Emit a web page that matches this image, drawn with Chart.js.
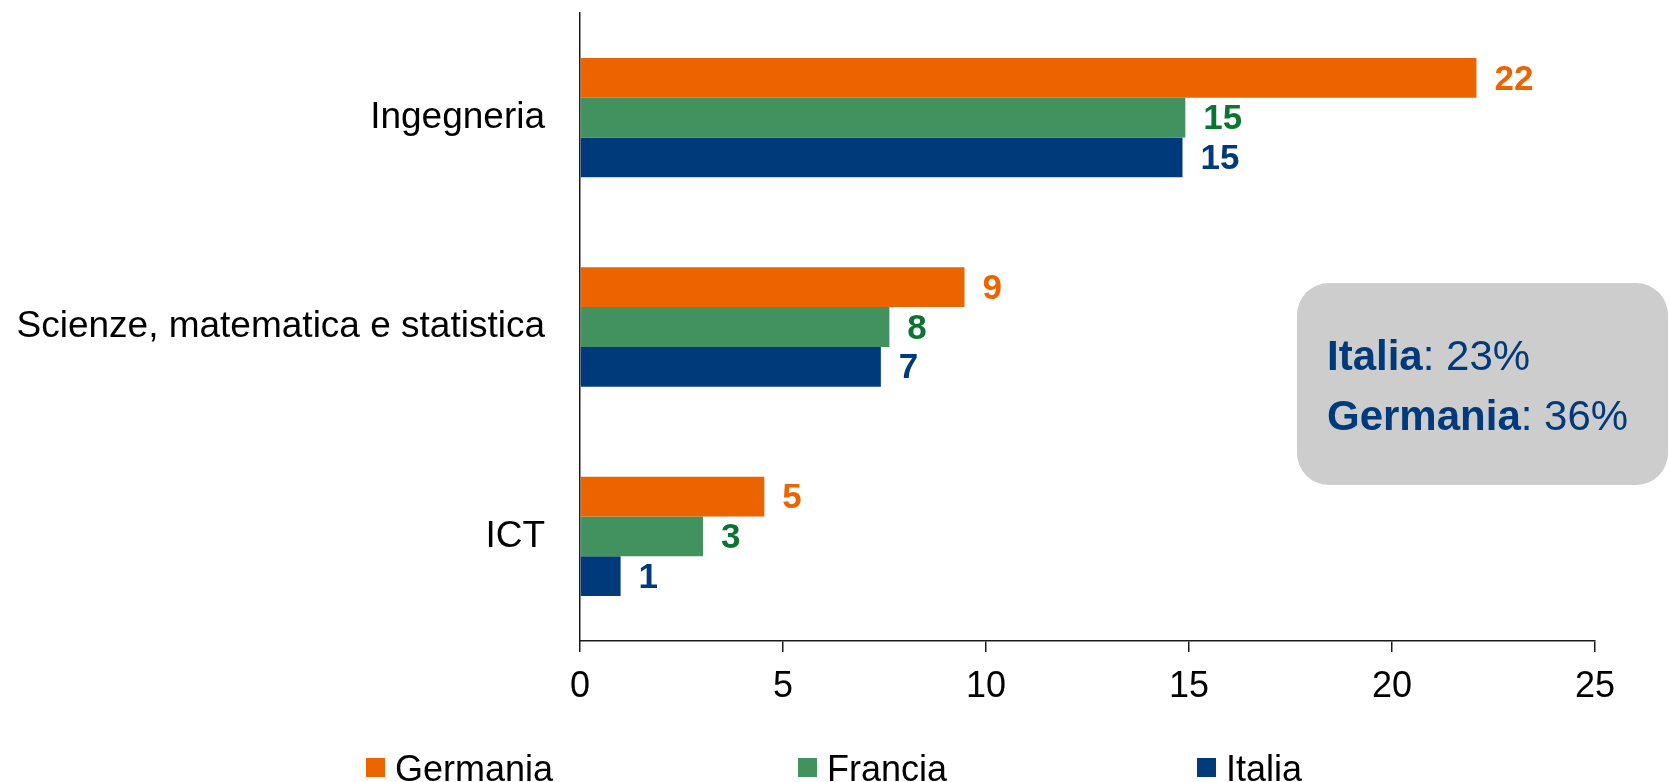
<!DOCTYPE html>
<html>
<head>
<meta charset="utf-8">
<title>Laureati STEM</title>
<style>
  html, body { margin: 0; padding: 0; background: #ffffff; overflow: hidden; }
  #wrap { position: relative; width: 1669px; height: 782px; }
</style>
<script src="https://cdn.jsdelivr.net/npm/chart.js@4.4.1/dist/chart.umd.min.js"></script>
</head>
<body>
<div id="wrap"><canvas id="chart" width="1669" height="782"></canvas></div>
<script>
// Fields of study (top to bottom)
const categories = ['Ingegneria', 'Scienze, matematica e statistica', 'ICT'];

// Share of graduates per field, by country
const germania = [22.08, 9.47, 4.54];
const francia  = [14.91, 7.62, 3.03];
const italia   = [14.84, 7.41, 1.00];

const seriesNames = ['Germania', 'Francia', 'Italia'];

// X axis tick values
const xTicks = [0, 5, 10, 15, 20, 25];

// Callout text: bold name, regular value
const calloutNames  = ['Italia', 'Germania'];
const calloutValues = [': 23%', ': 36%'];

const FONT = '"Liberation Sans", Arial, Helvetica, sans-serif';
const barColors   = ['#EC6400', '#41925E', '#003A7A'];
const labelColors = ['#EC6400', '#0B7432', '#003A7A'];

// Value labels to the right of every bar
const valueLabels = {
  id: 'valueLabels',
  afterDatasetsDraw(chart) {
    const ctx = chart.ctx;
    ctx.save();
    ctx.font = 'bold 35px ' + FONT;
    ctx.textBaseline = 'middle';
    ctx.textAlign = 'left';
    chart.data.datasets.forEach((ds, di) => {
      const meta = chart.getDatasetMeta(di);
      meta.data.forEach((bar, i) => {
        ctx.fillStyle = labelColors[di];
        ctx.fillText(String(Math.round(ds.data[i])), bar.x + 18, bar.y + 2);
      });
    });
    ctx.restore();
  }
};

// Legend row along the bottom edge
const legendRow = {
  id: 'legendRow',
  afterDraw(chart) {
    const ctx = chart.ctx;
    const starts = [366, 798, 1197];
    const boxY = 758, box = 19, textX = 29, baseline = 781;
    ctx.save();
    ctx.font = '36px ' + FONT;
    ctx.textBaseline = 'alphabetic';
    ctx.textAlign = 'left';
    chart.data.datasets.forEach((ds, di) => {
      const x = starts[di];
      ctx.fillStyle = ds.backgroundColor;
      ctx.fillRect(x, boxY, box, box);
      ctx.fillStyle = '#000000';
      ctx.fillText(ds.label, x + textX, baseline);
    });
    ctx.restore();
  }
};

// Rounded grey callout on the right
const callout = {
  id: 'callout',
  afterDraw(chart) {
    const ctx = chart.ctx;
    const x = 1297, y = 283, w = 371, h = 202, r = 32;
    ctx.save();
    ctx.fillStyle = '#CDCDCD';
    ctx.beginPath();
    ctx.roundRect(x, y, w, h, r);
    ctx.fill();
    ctx.fillStyle = '#003A7A';
    ctx.textBaseline = 'alphabetic';
    ctx.textAlign = 'left';
    const baselines = [370, 430];
    calloutNames.forEach((name, i) => {
      ctx.font = 'bold 42px ' + FONT;
      ctx.fillText(name, x + 30, baselines[i]);
      const wName = ctx.measureText(name).width;
      ctx.font = '42px ' + FONT;
      ctx.fillText(calloutValues[i], x + 30 + wName, baselines[i]);
    });
    ctx.restore();
  }
};

const seriesData = [germania, francia, italia];

new Chart(document.getElementById('chart'), {
  type: 'bar',
  data: {
    labels: categories,
    datasets: seriesNames.map((name, i) => ({
      label: name,
      data: seriesData[i],
      backgroundColor: barColors[i],
      borderWidth: 0,
      barPercentage: 1.0,
      categoryPercentage: 0.57
    }))
  },
  options: {
    indexAxis: 'y',
    responsive: false,
    animation: false,
    devicePixelRatio: 1,
    layout: { padding: { top: 13, right: 74, left: 0, bottom: 0 } },
    plugins: {
      legend: { display: false },
      tooltip: { enabled: false }
    },
    scales: {
      x: {
        type: 'linear',
        min: 0,
        max: 25,
        afterBuildTicks(scale) {
          scale.ticks = xTicks.map(v => ({ value: v }));
        },
        afterFit(scale) {
          scale.height = 141;
          scale.paddingLeft = 0;
          scale.paddingRight = 0;
        },
        grid: {
          display: true,
          drawOnChartArea: false,
          drawTicks: true,
          tickLength: 11,
          tickColor: '#1a1a1a',
          lineWidth: 1.5
        },
        border: { display: true, color: '#1a1a1a', width: 1.5 },
        ticks: {
          color: '#000000',
          font: { family: FONT, size: 36 },
          padding: 13,
          maxRotation: 0
        }
      },
      y: {
        type: 'category',
        afterFit(scale) {
          scale.width = 580;
          scale.paddingTop = 0;
          scale.paddingBottom = 0;
        },
        grid: { display: false, drawTicks: false, tickLength: 0 },
        border: { display: true, color: '#1a1a1a', width: 1.5 },
        ticks: {
          color: '#000000',
          font: { family: FONT, size: 37 },
          padding: 35
        }
      }
    }
  },
  plugins: [valueLabels, legendRow, callout]
});
</script>
</body>
</html>
